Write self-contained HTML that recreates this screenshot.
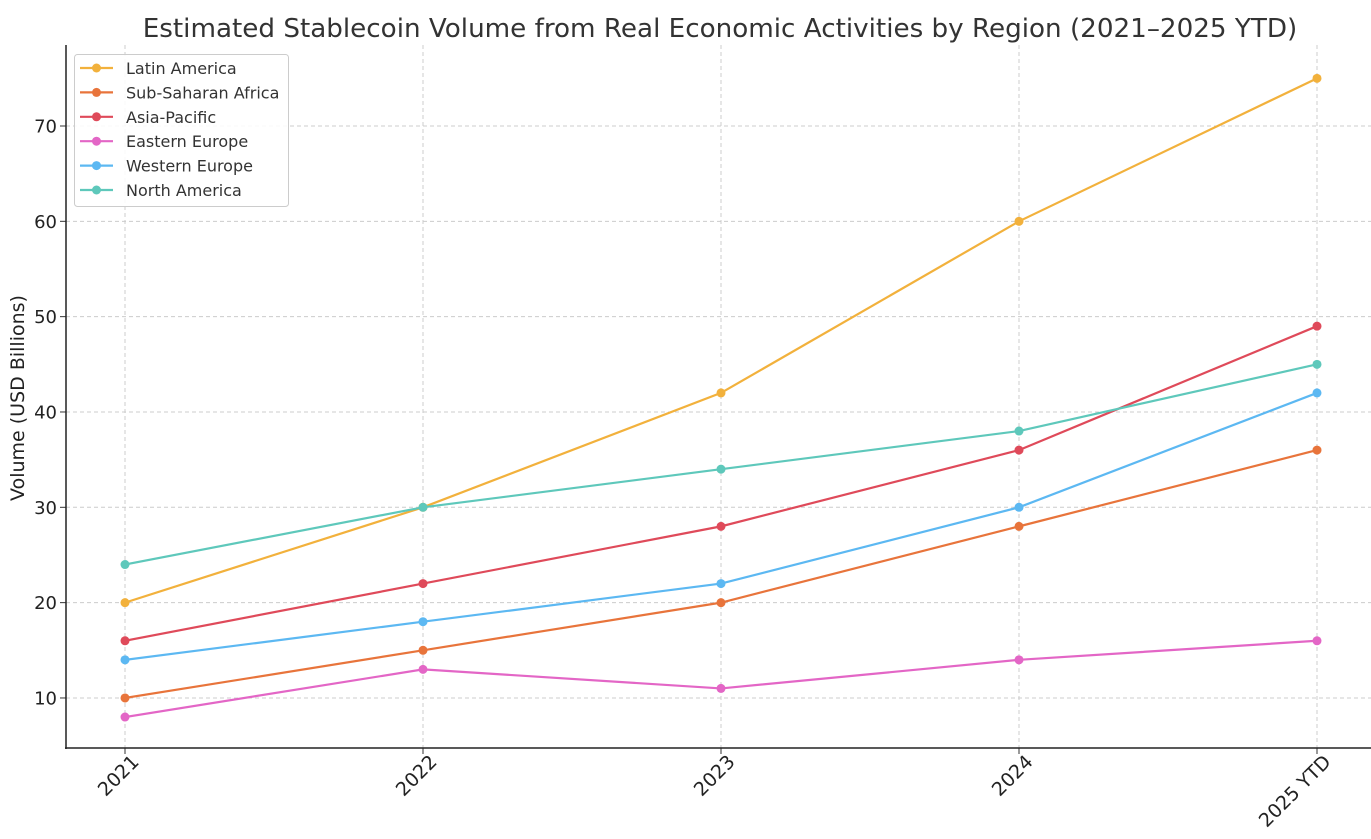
<!DOCTYPE html>
<html><head><meta charset="utf-8"><style>
html,body{margin:0;padding:0;background:#fff;}
svg{display:block;font-family:"DejaVu Sans","Liberation Sans",sans-serif;}
</style></head><body>
<svg id="chart" width="1371" height="839" viewBox="0 0 1371 839">
<text x="720" y="37" text-anchor="middle" font-size="26.2" fill="#333">Estimated Stablecoin Volume from Real Economic Activities by Region (2021–2025 YTD)</text>
<text transform="translate(24,398) rotate(-90)" text-anchor="middle" font-size="19" fill="#222">Volume (USD Billions)</text>
<g id="grid"></g><g id="axes"></g><g id="series"></g><g id="legend"></g>
</svg>
<script>
const categories=["2021","2022","2023","2024","2025 YTD"];
const seriesNames=["Latin America","Sub-Saharan Africa","Asia-Pacific","Eastern Europe","Western Europe","North America"];
const latinAmerica=[20,30,42,60,75];
const subSaharanAfrica=[10,15,20,28,36];
const asiaPacific=[16,22,28,36,49];
const easternEurope=[8,13,11,14,16];
const westernEurope=[14,18,22,30,42];
const northAmerica=[24,30,34,38,45];
const yTicks=[10,20,30,40,50,60,70];
const seriesValues=[latinAmerica,subSaharanAfrica,asiaPacific,easternEurope,westernEurope,northAmerica];
const colors=["#f2b13c","#e8743b","#df4a5a","#e366c6","#5cb8f2","#5ec8bb"];
const NS="http://www.w3.org/2000/svg";
const x=i=>125+i*298;
const y=v=>793.3-v*9.533;
function mk(tag,attrs,parent){const e=document.createElementNS(NS,tag);for(const k in attrs)e.setAttribute(k,attrs[k]);parent.appendChild(e);return e;}
const grid=document.getElementById('grid'),axes=document.getElementById('axes'),ser=document.getElementById('series'),leg=document.getElementById('legend');
yTicks.forEach(t=>{
 const l=mk('line',{x1:66,x2:1371,y1:y(t),y2:y(t),stroke:'#ccc','stroke-dasharray':'4,3','stroke-width':1},grid);
 
 
 mk('line',{x1:60,x2:66,y1:y(t),y2:y(t),stroke:'#333'},axes);
 const tx=mk('text',{x:57,y:y(t)+6.5,'text-anchor':'end','font-size':18,fill:'#222'},axes);
 tx.textContent=t;
 
 
});
categories.forEach((c,i)=>{
 const l=mk('line',{x1:x(i),x2:x(i),y1:45,y2:748,stroke:'#ccc','stroke-dasharray':'4,3','stroke-width':1},grid);
 
 
 mk('line',{x1:x(i),x2:x(i),y1:748,y2:754,stroke:'#333'},axes);
 const tx=mk('text',{transform:`translate(${x(i)+15},${763}) rotate(-45)`,'text-anchor':'end','font-size':19,fill:'#222'},axes);
 tx.textContent=c;
 
 
});
mk('line',{x1:66,x2:66,y1:45,y2:749,stroke:'#222','stroke-width':1.5},axes);
mk('line',{x1:65,x2:1371,y1:748,y2:748,stroke:'#222','stroke-width':1.5},axes);
seriesValues.forEach((vals,s)=>{
 const p=mk('polyline',{points:vals.map((v,i)=>x(i)+','+y(v)).join(' '),fill:'none',stroke:colors[s],'stroke-width':2.2},ser);
 
 
 vals.forEach((v,i)=>{
  const c=mk('circle',{cx:x(i),cy:y(v),r:4.5,fill:colors[s]},ser);
  
  
 });
});
const box=mk('rect',{x:74.5,y:54.5,width:214,height:152,rx:3,fill:'#fff','fill-opacity':0.85,stroke:'#ccc'},leg);


seriesNames.forEach((n,s)=>{
 const yy=68+s*24.4;
 const g=mk('g',{},leg);
 
 
 mk('line',{x1:80,x2:113,y1:yy,y2:yy,stroke:colors[s],'stroke-width':2.2},g);
 mk('circle',{cx:96.5,cy:yy,r:4.5,fill:colors[s]},g);
 const t=mk('text',{x:126,y:yy+6,'font-size':16,fill:'#333'},g);
 t.textContent=n;
});
</script>
</body></html>
